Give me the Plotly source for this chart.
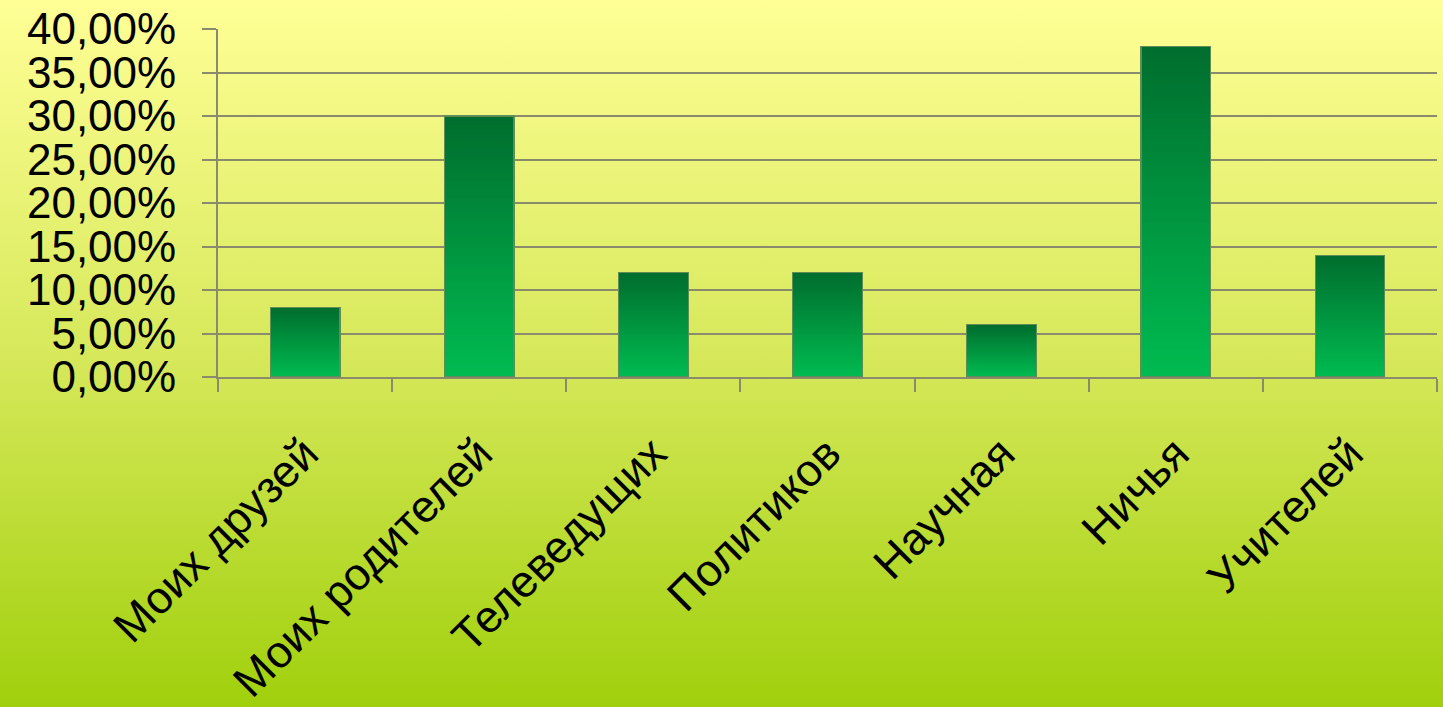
import base64
import plotly.graph_objects as go

categories = ["Моих друзей", "Моих родителей", "Телеведущих", "Политиков",
              "Научная", "Ничья", "Учителей"]
values = [0.08, 0.30, 0.12, 0.12, 0.06, 0.38, 0.14]
y_ticks = [0.0, 0.05, 0.10, 0.15, 0.20, 0.25, 0.30, 0.35, 0.40]

W, H = 1443, 707
ML, MR, MT, MB = 218, 6, 29, 330
PW, PH = W - ML - MR, H - MT - MB

N_SEG = 60
BOTTOM = (0, 187, 80)
TOP = (0, 110, 46)


def mix(t):
    c = [round(BOTTOM[i] + (TOP[i] - BOTTOM[i]) * t) for i in range(3)]
    return "rgb(%d,%d,%d)" % tuple(c)


fig = go.Figure()
for k in range(N_SEG):
    col = mix(k / (N_SEG - 1))
    fig.add_trace(go.Bar(
        x=categories, y=[v / N_SEG for v in values], width=0.4,
        marker=dict(color=col, line=dict(color=col, width=0.6)),
        showlegend=False, hoverinfo="skip"))

# outline
fig.add_trace(go.Bar(
    x=categories, y=values, width=0.4, xaxis="x2",
    marker=dict(color="rgba(0,0,0,0)", line=dict(color="#5f8d55", width=1.2)),
    showlegend=False, hoverinfo="skip"))

svg = ('<svg xmlns="http://www.w3.org/2000/svg" width="100" height="100" preserveAspectRatio="none">'
       '<defs><linearGradient id="g" x1="0" y1="0" x2="0" y2="1">'
       '<stop offset="0" stop-color="#FFFF96"/>'
       '<stop offset="0.53" stop-color="#D4E757"/>'
       '<stop offset="1" stop-color="#A0D00C"/>'
       '</linearGradient></defs><rect width="100" height="100" fill="url(#g)"/></svg>')
src = "data:image/svg+xml;base64," + base64.b64encode(svg.encode()).decode()

grid = "#8a8b6c"
font = "Liberation Sans, Arial, sans-serif"

fig.update_layout(
    width=W, height=H, barmode="stack", separators=", ",
    margin=dict(l=ML, r=MR, t=MT, b=MB, pad=0, autoexpand=False),
    paper_bgcolor="#d4e757", plot_bgcolor="rgba(0,0,0,0)",
    font=dict(family=font, size=44, color="black"),
    images=[dict(source=src, xref="paper", yref="paper",
                 x=-ML / PW, y=1 + MT / PH, sizex=W / PW, sizey=H / PH,
                 sizing="stretch", xanchor="left", yanchor="top", layer="below")],
    xaxis=dict(type="category", categoryorder="array", categoryarray=categories,
               range=[-0.5, 6.5], tickangle=-45, tickson="boundaries",
               ticks="outside", ticklen=13, tickwidth=2, tickcolor=grid,
               showline=True, linecolor=grid, linewidth=2,
               showgrid=False, ticklabelstandoff=30, automargin=False,
               tickfont=dict(family=font, size=45, color="black")),
    xaxis2=dict(type="category", categoryorder="array", categoryarray=categories,
                range=[-0.5, 6.5], overlaying="x", visible=False),
    yaxis=dict(range=[0, 0.4], tickvals=y_ticks, tickformat=".2%",
               showgrid=True, gridcolor=grid, gridwidth=2,
               ticks="outside", ticklen=14, tickwidth=2, tickcolor=grid,
               showline=True, linecolor=grid, linewidth=2, zeroline=False,
               ticklabelstandoff=17, automargin=False,
               tickfont=dict(family=font, size=44, color="black")),
)

fig.write_html("out.html", config={"displayModeBar": False},
               post_script="document.body.style.margin='0';"
                           "document.body.style.overflow='hidden';")
